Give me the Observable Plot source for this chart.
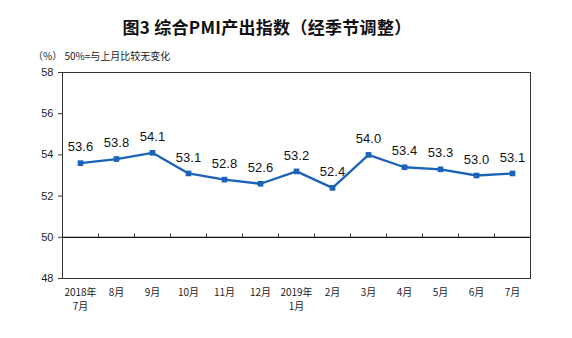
<!DOCTYPE html>
<html><head><meta charset="utf-8">
<script src="https://cdn.jsdelivr.net/npm/d3@7"></script>
<script src="https://cdn.jsdelivr.net/npm/@observablehq/plot@0.6"></script>
<style>
body{margin:0;background:#fff;}
#wrap{position:relative;width:572px;height:338px;overflow:hidden;}
#title{position:absolute;left:0;width:534px;top:14px;text-align:center;font:bold 17px "Noto Sans CJK SC",sans-serif;color:#111;letter-spacing:0.3px;}
#sub{position:absolute;left:33px;top:48px;font:10px "Noto Sans CJK SC",sans-serif;color:#222;}
#chart{position:absolute;left:0;top:0;}
</style></head>
<body><div id="wrap">
<div id="chart"></div>
<div id="title">图3 综合PMI产出指数（经季节调整）</div>
<div id="sub">（%） 50%=与上月比较无变化</div>
</div>
<script>
const months = ["2018年\n7月","8月","9月","10月","11月","12月","2019年\n1月","2月","3月","4月","5月","6月","7月"];
const values = [53.6,53.8,54.1,53.1,52.8,52.6,53.2,52.4,54.0,53.4,53.3,53.0,53.1];
const yTicks = [48,50,52,54,56,58];

const data = months.map((m,i)=>({i, m, v: values[i]}));
const idx = months.map((_,i)=>i);
const bounds = months.slice(1).map((_,i)=>i+0.5);
const color = "#1a63b8";

const chart = Plot.plot({
  width: 572, height: 338,
  marginTop: 72, marginBottom: 60, marginLeft: 62, marginRight: 42,
  style: {fontFamily: "Liberation Sans, Arial, sans-serif", background: "#fff"},
  x: {domain: [-0.5, months.length - 0.5]},
  y: {domain: [48, 58]},
  marks: [
    Plot.frame({stroke: "#333", strokeWidth: 1}),
    Plot.ruleY([50], {stroke: "#111", strokeWidth: 1.3}),
    Plot.ruleX(bounds, {x: d=>d, y1: 50, y2: 50.15, stroke: "#333"}),
    Plot.axisY({ticks: yTicks, tickSize: 4, tickPadding: 5, fontSize: 11, label: null, stroke: "#333", fill: "#222"}),
    Plot.axisX({ticks: idx, tickSize: 0, tickPadding: 7, tickFormat: i => months[i], fontSize: 10, label: null, fontFamily: "Noto Sans CJK SC, sans-serif", fill: "#222", lineHeight: 1.45}),
    Plot.line(data, {x: "i", y: "v", stroke: color, strokeWidth: 2.3}),
    Plot.dot(data, {x: "i", y: "v", symbol: "square", r: 3.2, fill: color, stroke: "none"}),
    Plot.text(data, {x: "i", y: "v", text: d => d.v.toFixed(1), dy: -16, fontSize: 13, fill: "#111"})
  ]
});
document.getElementById("chart").append(chart);
</script>
</body></html>
